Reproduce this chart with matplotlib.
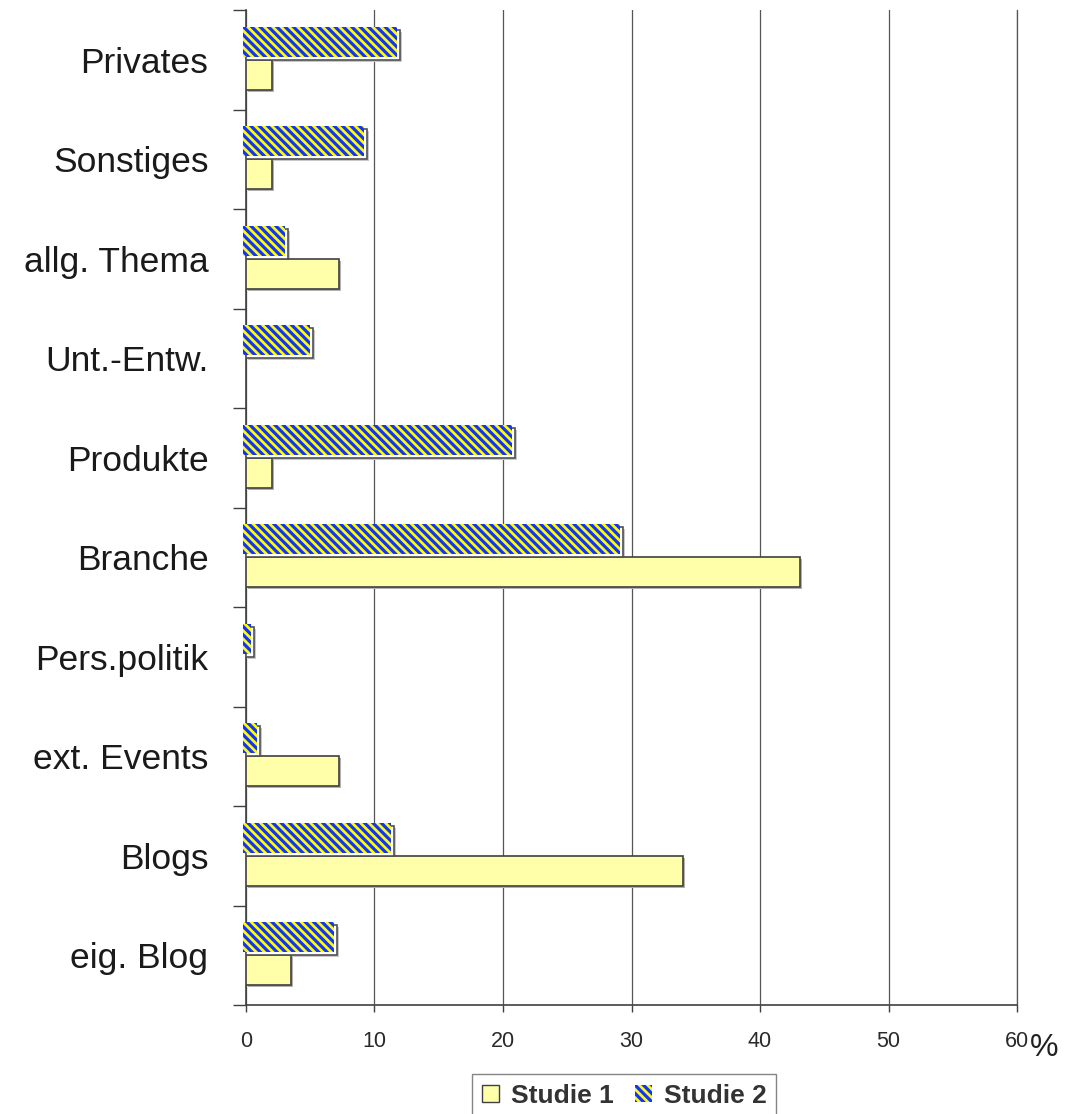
import matplotlib
matplotlib.use("Agg")
import matplotlib.pyplot as plt
import matplotlib.transforms as mtransforms
from matplotlib.patches import Patch
import numpy as np

# Topic categories, listed bottom to top
categories = ["eig. Blog", "Blogs", "ext. Events", "Pers.politik", "Branche",
              "Produkte", "Unt.-Entw.", "allg. Thema", "Sonstiges", "Privates"]
studie1 = [3.5, 34.0, 7.2, 0.0, 43.1, 2.0, 0.0, 7.2, 2.0, 2.0]
studie2 = [7.1, 11.5, 1.1, 0.65, 29.3, 20.9, 5.2, 3.3, 9.4, 12.0]
xticks = [0, 10, 20, 30, 40, 50, 60]
series_names = ["Studie 1", "Studie 2"]

plt.rcParams["font.family"] = ["Liberation Sans", "DejaVu Sans"]
plt.rcParams["hatch.linewidth"] = 2.3

HATCH = "\\\\\\\\"

fig = plt.figure(figsize=(10.86, 11.14), dpi=100)
ax = fig.add_axes([0.2265, 0.0978, 0.7100, 0.8932])

y = np.arange(len(categories))
bar_h = 0.3
yellow = "#FFFFAA"
edge = "#404040"

def shifted(dx_px, dy_px):
    return ax.transData + mtransforms.ScaledTranslation(dx_px / 100.0, dy_px / 100.0,
                                                        fig.dpi_scale_trans)

# Studie 1: pale yellow bars with a soft drop shadow
shadow1 = ax.barh(y - bar_h, studie1, height=bar_h, align="edge",
                  color="#B0B0B0", linewidth=0, zorder=2)
for p in shadow1:
    p.set_transform(shifted(2, -2))
    p.set_clip_on(False)
bars1 = ax.barh(y - bar_h, studie1, height=bar_h, align="edge",
                color=yellow, edgecolor=edge, linewidth=1.2, zorder=3)
for b, v in zip(bars1, studie1):
    if v == 0:
        b.set_visible(False)

# Studie 2: outlined frame behind a blue/yellow diagonal pattern
shadow2 = ax.barh(y, studie2, height=bar_h, align="edge",
                  color="#C8C8C8", linewidth=0, zorder=2)
for p in shadow2:
    p.set_transform(shifted(2, -2))
    p.set_clip_on(False)
frames2 = ax.barh(y, studie2, height=bar_h, align="edge",
                  facecolor="white", edgecolor="#505050", linewidth=1.2, zorder=3)
pattern2 = ax.barh(y, studie2, height=bar_h, align="edge",
                   facecolor="#FFFF00", edgecolor="#1133FF", linewidth=0,
                   hatch=HATCH, zorder=4)
for p in pattern2:
    p.set_transform(shifted(-3, 3))
    p.set_clip_on(False)

ax.set_xlim(0, 60)
ax.set_ylim(-0.5, len(categories) - 0.5)

# vertical grid
ax.set_xticks(xticks)
ax.set_xticklabels([str(t) for t in xticks])
ax.xaxis.grid(True, color="#555555", linewidth=0.9, zorder=0)
ax.set_axisbelow(True)

ax.set_yticks(y)
ax.set_yticklabels(categories)
ax.set_yticks(np.arange(-0.5, len(categories), 1.0), minor=True)
ax.tick_params(axis="y", which="major", length=0, pad=27, labelsize=25.5,
               labelcolor="#1a1a1a")
ax.tick_params(axis="y", which="minor", length=9.5, width=1.0, color="#404040")
ax.tick_params(axis="x", which="major", length=5, width=1.0, color="#404040",
               pad=14, labelsize=15.5, labelcolor="#2a2a2a")

ax.spines["top"].set_visible(False)
ax.spines["right"].set_color("#555555")
ax.spines["right"].set_linewidth(0.9)
for side in ["left", "bottom"]:
    ax.spines[side].set_color("#404040")
    ax.spines[side].set_linewidth(1.2)

fig.text(0.9615, 0.059, "%", fontsize=23, color="#222222", ha="center", va="center")

handles = [Patch(facecolor=yellow, edgecolor=edge, linewidth=1.0),
           Patch(facecolor="#FFFF00", edgecolor="#1133FF", linewidth=0, hatch=HATCH)]
leg = fig.legend(handles, series_names, loc="upper center",
                 bbox_to_anchor=(0.5746, 0.0355), ncol=2, frameon=True,
                 fancybox=False, edgecolor="#666666", fontsize=19,
                 handlelength=0.65, handleheight=0.65, handletextpad=0.45,
                 columnspacing=0.8, borderpad=0.35, borderaxespad=0)
leg.get_frame().set_linewidth(1.0)
for t in leg.get_texts():
    t.set_fontweight("bold")
    t.set_color("#333333")

fig.savefig("out.png", dpi=100)
